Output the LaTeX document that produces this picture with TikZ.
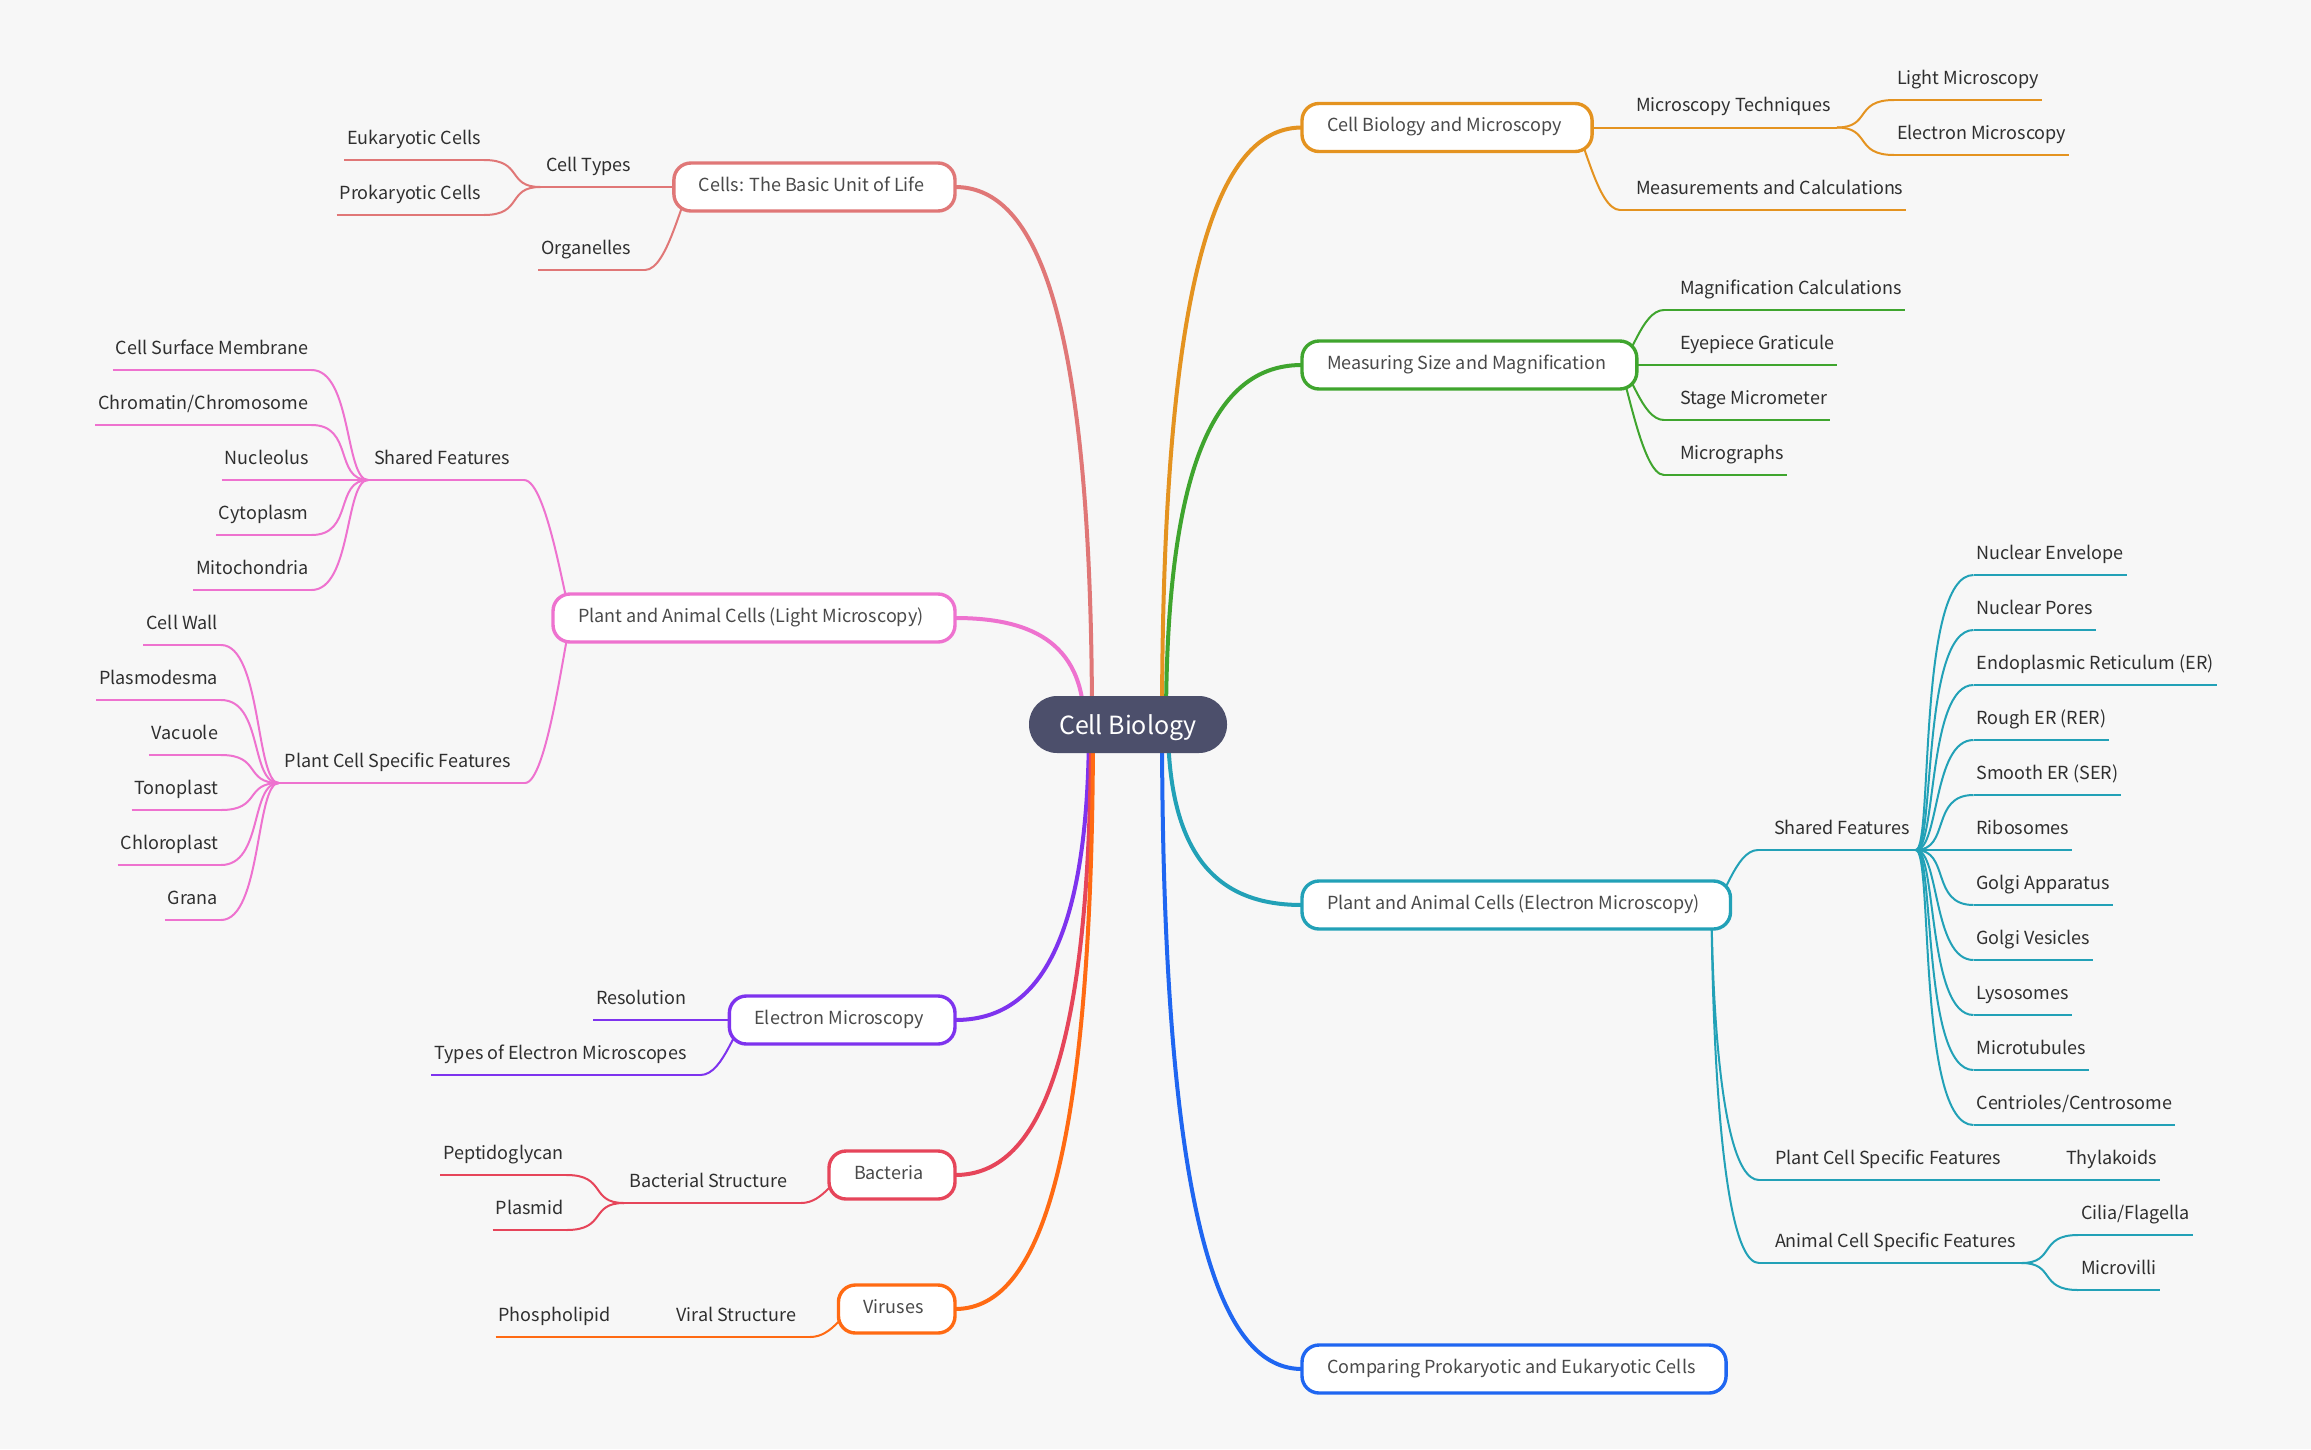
\documentclass[tikz,border=0pt]{standalone}
\usepackage{fontspec}
\setmainfont{Noto Sans CJK SC}
\usetikzlibrary{calc}
\pgfdeclarelayer{links}
\pgfsetlayers{links,main}
\definecolor{bgc}{HTML}{F7F7F7}
\definecolor{leafc}{HTML}{2F2F2F}
\definecolor{mainc}{HTML}{4A4A4A}
\definecolor{rootc}{HTML}{4C4F6B}
\definecolor{corange}{HTML}{E49320}
\definecolor{cgreen}{HTML}{3FA52E}
\definecolor{cteal}{HTML}{22A1B7}
\definecolor{cblue}{HTML}{1F66F1}
\definecolor{crose}{HTML}{E07777}
\definecolor{cpink}{HTML}{EE72CF}
\definecolor{cpurple}{HTML}{7E33EE}
\definecolor{ccrim}{HTML}{E6455A}
\definecolor{cfire}{HTML}{FF6A13}
\colorlet{cur}{corange}
\tikzset{
  x=1pt,y=-1pt,
  rootnode/.style={fill=rootc,text=white,rounded corners=28pt,minimum width=198pt,minimum height=57pt,inner sep=0pt,font=\fontsize{25}{30}\selectfont,text height=26pt,text depth=6pt},
  mainnode/.style={draw=cur,line width=3.4pt,fill=white,text=mainc,rounded corners=17pt,minimum height=48pt,inner xsep=25pt,inner ysep=0pt,font=\fontsize{18}{22}\selectfont,text height=15pt,text depth=7pt,outer sep=0pt},
  leaf/.style={text=leafc,inner xsep=3pt,inner ysep=5pt,text height=15pt,text depth=11pt,font=\fontsize{18}{22}\selectfont,outer sep=0pt},
  subnode/.style={leaf,inner xsep=6pt},
  sublink/.style={draw=cur,line width=2pt},
  mainlink/.style={line width=4pt},
}
\def\CurveAux#1,#2;#3#4{\begin{pgfonlayer}{links}\draw[sublink] (#3) .. controls ($(#3)!#1!(#3-|#4)$) and ($(#4-|#3)!#2!(#4)$) .. (#4);\end{pgfonlayer}}
\newcommand{\Curve}[3][.6,.3]{\CurveAux#1;{#2}{#3}}
\newcommand{\Straight}[2]{\begin{pgfonlayer}{links}\draw[sublink] (#1) -- (#2);\end{pgfonlayer}}
\newcommand{\Under}[1]{\Straight{#1.south west}{#1.south east}}
\newcommand{\LeafR}[4]{\node[leaf,anchor=south west] (#1) at (#2,#3) {#4};\Under{#1}}
\newcommand{\LeafL}[4]{\node[leaf,anchor=south east] (#1) at (#2,#3) {#4};\Under{#1}}
\newcommand{\SubR}[4]{\node[subnode,anchor=south west] (#1) at (#2,#3) {\hspace*{10pt}#4};\Under{#1}}
\newcommand{\SubL}[4]{\node[subnode,anchor=south east] (#1) at (#2,#3) {#4\hspace*{8pt}};\Under{#1}}
\newcommand{\MainLink}[3]{\begin{pgfonlayer}{links}\draw[mainlink,draw=#1] (#2) .. controls ($(#2)!.8!(#2|-#3)$) and ($(#3)!.55!(#3-|#2)$) .. (#3);\end{pgfonlayer}}
\begin{document}
\begin{tikzpicture}
\useasboundingbox (0,0) rectangle (2311,1449);
\begin{pgfonlayer}{links}
\fill[bgc] (0,0) rectangle (2311,1449);
\end{pgfonlayer}
\node[rootnode] (root) at (1128,724.5) {Cell Biology};
\coordinate (sa) at (1092,724);
\coordinate (sb) at (1084,724);
\coordinate (sc) at (1089,724);
\coordinate (sd) at (1091,724);
\coordinate (se) at (1093,724);
\coordinate (sf) at (1162,724);
\coordinate (sg) at (1166,724);
\coordinate (sh) at (1168,724);
\coordinate (si) at (1162,724);
% ---------- orange
\colorlet{cur}{corange}
\node[mainnode,anchor=west] (m1) at (1302,127.5) {Cell Biology and Microscopy\hspace*{5.5pt}};
\MainLink{corange}{sf}{m1.west}
\coordinate (h1) at ($(m1.east)+(-19,0)$);
\SubR{mt}{1620}{127.5}{Microscopy Techniques}
\Straight{m1.east}{mt.south west}
\LeafR{lm}{1894}{100}{Light Microscopy}
\LeafR{em}{1894}{155}{Electron Microscopy}
\Curve{mt.south east}{lm.south west}
\Curve{mt.south east}{em.south west}
\LeafR{mc}{1620}{210}{\hspace*{13pt}Measurements and Calculations}
\Curve[.2,.5]{h1}{mc.south west}
% ---------- green
\colorlet{cur}{cgreen}
\node[mainnode,anchor=west] (m2) at (1302,365) {Measuring Size and Magnification\hspace*{5.5pt}};
\MainLink{cgreen}{sg}{m2.west}
\coordinate (h2) at ($(m2.east)+(-19,0)$);
\LeafR{g1}{1664}{310}{\hspace*{13pt}Magnification Calculations}
\LeafR{g2}{1664}{365}{\hspace*{13pt}Eyepiece Graticule}
\LeafR{g3}{1664}{420}{\hspace*{13pt}Stage Micrometer}
\LeafR{g4}{1664}{475}{\hspace*{13pt}Micrographs}
\Curve[.26,.5]{h2}{g1.south west}
\Straight{m2.east}{g2.south west}
\Curve[.26,.5]{h2}{g3.south west}
\Curve[.15,.5]{h2}{g4.south west}
% ---------- teal
\colorlet{cur}{cteal}
\node[mainnode,anchor=west] (m3) at (1302,905) {Plant and Animal Cells (Electron Microscopy)\hspace*{5.5pt}};
\MainLink{cteal}{sh}{m3.west}
\coordinate (h3) at ($(m3.east)+(-19,0)$);
\SubR{ts}{1758}{850}{Shared Features}
\Curve[.26,.5]{h3}{ts.south west}
\foreach \t/\kf/\kg [count=\i from 0] in {Nuclear Envelope/.3/.02,Nuclear Pores/.33/.1,{Endoplasmic Reticulum (ER)}/.36/.2,{Rough ER (RER)}/.41/.29,{Smooth ER (SER)}/.6/.25,Ribosomes/0/0,Golgi Apparatus/.6/.25,Golgi Vesicles/.41/.29,Lysosomes/.36/.2,Microtubules/.33/.1,Centrioles\slash Centrosome/.3/.02}{
  \pgfmathsetmacro{\yy}{575+55*\i}
  \LeafR{t\i}{1973.5}{\yy}{\t}
  \ifnum\i=5 \Straight{ts.south east}{t\i.south west}\else \Curve[\kf,\kg]{ts.south east}{t\i.south west}\fi
}
\SubR{tp}{1759}{1180}{Plant Cell Specific Features}
\Curve[0,0]{h3}{tp.south west}
\LeafR{th}{2063}{1180}{Thylakoids}
\Straight{tp.south east}{th.south west}
\SubR{ta}{1759}{1263}{Animal Cell Specific Features}
\Curve[0,0]{h3}{ta.south west}
\LeafR{ci}{2078}{1235}{Cilia/Flagella}
\LeafR{mv}{2078}{1290}{Microvilli}
\Curve{ta.south east}{ci.south west}
\Curve{ta.south east}{mv.south west}
% ---------- blue
\colorlet{cur}{cblue}
\node[mainnode,anchor=west] (m4) at (1302,1369) {Comparing Prokaryotic and Eukaryotic Cells\hspace*{5.5pt}};
\MainLink{cblue}{si}{m4.west}
% ---------- rose
\colorlet{cur}{crose}
\node[mainnode,anchor=east] (m5) at (955,187) {Cells: The Basic Unit of Life\hspace*{5.5pt}};
\MainLink{crose}{sa}{m5.east}
\coordinate (h5) at ($(m5.west)+(19,0)$);
\SubL{ct}{645}{187}{Cell Types}
\Straight{m5.west}{ct.south east}
\LeafL{ek}{484}{160}{Eukaryotic Cells}
\LeafL{pk}{484}{215}{Prokaryotic Cells}
\Curve{ct.south west}{ek.south east}
\Curve{ct.south west}{pk.south east}
\LeafL{og}{645}{270}{Organelles\hspace*{11pt}}
\Curve[.2,.5]{h5}{og.south east}
% ---------- pink
\colorlet{cur}{cpink}
\node[mainnode,anchor=east] (m6) at (955,618) {Plant and Animal Cells (Light Microscopy)\hspace*{6.5pt}};
\MainLink{cpink}{sb}{m6.east}
\coordinate (h6) at ($(m6.west)+(19,0)$);
\SubL{ps}{524}{480}{Shared Features}
\SubL{pp}{525}{783}{Plant Cell Specific Features}
\Curve[.1,.5]{h6}{ps.south east}
\Curve[.1,.5]{h6}{pp.south east}
\foreach \t/\kf/\kg [count=\i from 0] in {Cell Surface Membrane/.41/.29,Chromatin\slash Chromosome/.6/.25,Nucleolus/0/0,Cytoplasm/.6/.25,Mitochondria/.41/.29}{
  \pgfmathsetmacro{\yy}{370+55*\i}
  \LeafL{a\i}{311.5}{\yy}{\t}
  \ifnum\i=2 \Straight{ps.south west}{a\i.south east}\else \Curve[\kf,\kg]{ps.south west}{a\i.south east}\fi
}
\foreach \t/\kf/\kg [count=\i from 0] in {Cell Wall/.4/.3,Plasmodesma/.5/.27,Vacuole/.6/.3,Tonoplast/.6/.3,Chloroplast/.5/.27,Grana/.4/.3}{
  \pgfmathsetmacro{\yy}{645+55*\i}
  \LeafL{b\i}{221}{\yy}{\t}
  \Curve[\kf,\kg]{pp.south west}{b\i.south east}
}
% ---------- purple
\colorlet{cur}{cpurple}
\node[mainnode,anchor=east] (m7) at (955,1020) {Electron Microscopy\hspace*{6.5pt}};
\MainLink{cpurple}{sc}{m7.east}
\coordinate (h7) at ($(m7.west)+(19,0)$);
\LeafL{re}{700.5}{1020}{Resolution\hspace*{11pt}}
\Straight{m7.west}{re.south east}
\LeafL{ty}{700.5}{1075}{Types of Electron Microscopes\hspace*{11pt}}
\Curve[.26,.5]{h7}{ty.south east}
% ---------- crimson
\colorlet{cur}{ccrim}
\node[mainnode,anchor=east] (m8) at (955,1175) {Bacteria\hspace*{6.5pt}};
\MainLink{ccrim}{sd}{m8.east}
\coordinate (h8) at ($(m8.west)+(19,0)$);
\SubL{bs}{801}{1203}{Bacterial Structure}
\Curve[.3,.5]{h8}{bs.south east}
\LeafL{pe}{566.5}{1175}{Peptidoglycan}
\LeafL{pl}{566.5}{1230}{Plasmid}
\Curve{bs.south west}{pe.south east}
\Curve{bs.south west}{pl.south east}
% ---------- fire
\colorlet{cur}{cfire}
\node[mainnode,anchor=east] (m9) at (955,1309) {Viruses\hspace*{6.5pt}};
\MainLink{cfire}{se}{m9.east}
\coordinate (h9) at ($(m9.west)+(19,0)$);
\SubL{vs}{810}{1337}{Viral Structure}
\Curve[.3,.5]{h9}{vs.south east}
\LeafL{ph}{613.5}{1337}{Phospholipid}
\Straight{vs.south west}{ph.south east}
\end{tikzpicture}
\end{document}
